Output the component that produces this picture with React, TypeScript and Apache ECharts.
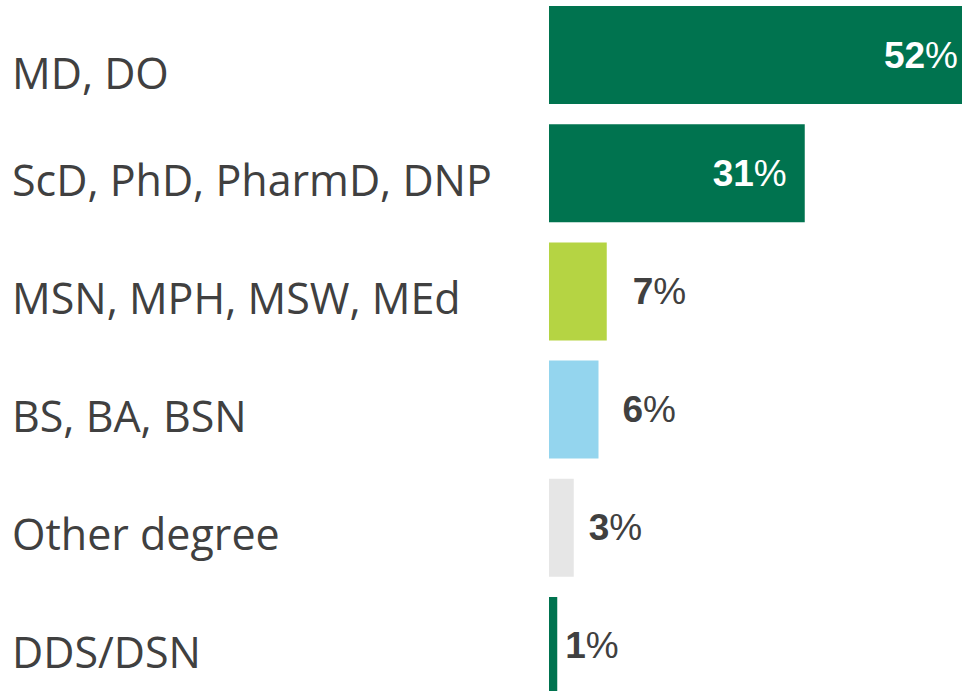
import React, { useEffect, useRef } from "react";
import * as echarts from "echarts";

const categories = [
  "MD, DO",
  "ScD, PhD, PharmD, DNP",
  "MSN, MPH, MSW, MEd",
  "BS, BA, BSN",
  "Other degree",
  "DDS/DSN",
];
const values = [52, 31, 7, 6, 3, 1];
const barColors = ["#00734F", "#00734F", "#B5D443", "#94D5EE", "#E6E6E6", "#00734F"];
const insideLabel = [true, true, false, false, false, false];
const labelGap = [20, 18, 26, 24, 15, 8];

export default function App() {
  const ref = useRef<HTMLDivElement>(null);
  useEffect(() => {
    if (!ref.current) return;
    const chart = echarts.init(ref.current, null, { renderer: "svg" });
    chart.setOption({
      animation: false,
      grid: { left: 549, top: 0, width: 429, height: 709, containLabel: false },
      xAxis: { type: "value", min: 0, max: 52, show: false },
      yAxis: {
        type: "category",
        data: categories,
        inverse: true,
        axisLine: { show: false },
        axisTick: { show: false },
        axisLabel: {
          align: "left",
          margin: 537,
          formatter: (v: string, i: number) => (i === 0 ? `{a|${v}}` : `{b|${v}}`),
          rich: {
            a: { fontFamily: "Open Sans", fontSize: 43, color: "#404040", padding: [34, 0, 0, 0] },
            b: { fontFamily: "Open Sans", fontSize: 43, color: "#404040", padding: [12, 0, 0, 0] },
          },
        },
      },
      series: [
        {
          type: "bar",
          barCategoryGap: "17%",
          data: values.map((v, i) => ({
            value: v,
            itemStyle: { color: barColors[i] },
            label: {
              show: true,
              position: insideLabel[i] ? "insideRight" : "right",
              distance: labelGap[i],
              formatter: () => `{n|${v}}{p|%}`,
              rich: {
                n: {
                  fontFamily: "Liberation Sans",
                  fontWeight: "bold",
                  fontSize: 37,
                  color: insideLabel[i] ? "#FFFFFF" : "#404040",
                },
                p: {
                  fontFamily: "Liberation Sans",
                  fontWeight: "normal",
                  fontSize: 37,
                  color: insideLabel[i] ? "#FFFFFF" : "#404040",
                },
              },
            },
          })),
        },
      ],
    });
    return () => chart.dispose();
  }, []);
  return (
    <div
      style={{
        position: "fixed",
        left: 0,
        top: 0,
        width: 962,
        height: 691,
        overflow: "hidden",
        background: "#fff",
      }}
    >
      <div
        ref={ref}
        style={{ position: "absolute", left: 0, top: -4, width: 980, height: 713 }}
      />
    </div>
  );
}
